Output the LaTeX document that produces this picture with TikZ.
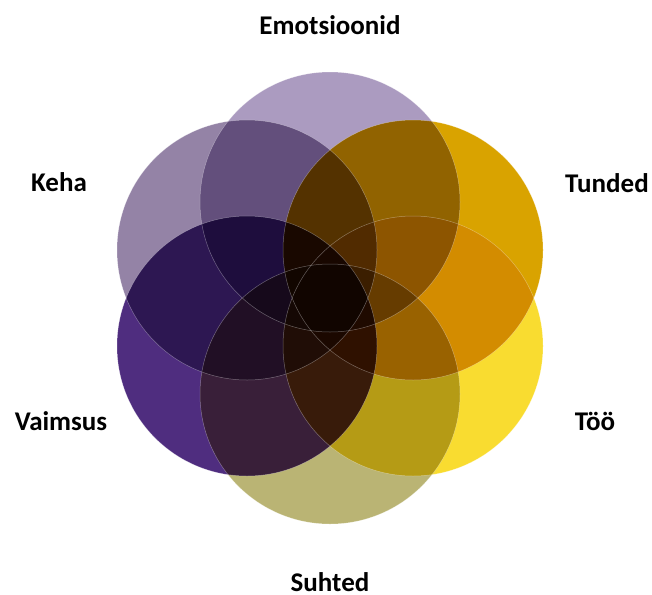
\documentclass[tikz,border=0pt]{standalone}
\usepackage{fontspec}
\setmainfont{Carlito}
\usepackage{tikz}
\definecolor{emocol}{RGB}{171,155,192}
\definecolor{tuncol}{RGB}{217,163,0}
\definecolor{toocol}{RGB}{249,220,48}
\definecolor{suhcol}{RGB}{186,180,116}
\definecolor{vaicol}{RGB}{79,45,127}
\definecolor{kehcol}{RGB}{148,131,166}
\begin{document}
\begin{tikzpicture}[x=1pt,y=1pt]
\tikzset{label/.style={font=\fontsize{27}{32}\selectfont\bfseries, inner sep=0pt},
         rim/.style={draw=white, draw opacity=0.35, line width=0.5pt}}
\useasboundingbox (0,0) rectangle (652,-594);
\coordinate (emo) at (330,-202);
\coordinate (tun) at (413,-250);
\coordinate (too) at (413,-346);
\coordinate (suh) at (330,-394);
\coordinate (vai) at (247,-346);
\coordinate (keh) at (247,-250);
\begin{scope}[blend group=multiply]
\fill [emocol] (emo) circle (130);
\fill [tuncol] (tun) circle (130);
\fill [toocol] (too) circle (130);
\fill [suhcol] (suh) circle (130);
\fill [vaicol] (vai) circle (130);
\fill [kehcol] (keh) circle (130);
\end{scope}
% thin rims over the overlaps
\draw [rim] (emo) circle (130);
\draw [rim] (tun) circle (130);
\draw [rim] (too) circle (130);
\draw [rim] (suh) circle (130);
\draw [rim] (vai) circle (130);
\draw [rim] (keh) circle (130);
\node [label] (emolab) at (330,-25) {Emotsioonid};
\node [label] (tunlab) at (607,-183) {Tunded};
\node [label] (toolab) at (595,-421) {Töö};
\node [label] (suhlab) at (330,-582) {Suhted};
\node [label] (vailab) at (61,-421) {Vaimsus};
\node [label] (kehlab) at (59,-182) {Keha};
\end{tikzpicture}
\end{document}
